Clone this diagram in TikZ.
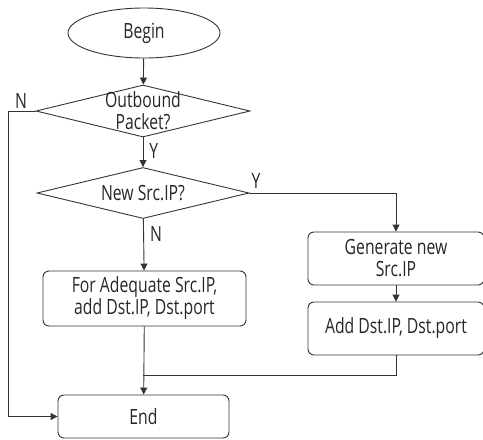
\documentclass[tikz,border=0pt]{standalone}
\usepackage{fontspec}
\setmainfont{Open Sans}[FakeStretch=0.75]
\usetikzlibrary{shapes.geometric,arrows.meta}
\tikzset{
  every node/.style={font=\fontsize{21}{22}\selectfont, text=black!85},
  line/.style={draw=black!80, line width=0.9pt},
  arr/.style={line, -{Triangle[length=7pt,width=7pt]}},
  proc/.style={line, rectangle, rounded corners=6pt, inner sep=0pt, align=center},
  dec/.style={line, diamond, inner sep=0pt},
  lbl/.style={inner sep=0pt}
}
\begin{document}
\begin{tikzpicture}[x=1pt,y=-1pt]
\useasboundingbox (0,0) rectangle (483,440);
\node[line, ellipse, minimum width=152pt, minimum height=50pt, inner sep=0pt] (begin) at (144,33) {Begin};
\node[dec, minimum width=214pt, minimum height=52pt, label={[align=center]center:Outbound\\Packet?}] (out) at (143,111) {};
\node[dec, minimum width=212pt, minimum height=51pt, label={center:New Src.IP?}] (src) at (143,193) {};
\node[proc, minimum width=203pt, minimum height=55pt] (ada) at (144.5,298.5) {For Adequate Src.IP,\\add Dst.IP, Dst.port};
\node[proc, minimum width=176pt, minimum height=53pt] (gen) at (396,258.5) {Generate new\\Src.IP};
\node[proc, minimum width=176pt, minimum height=53pt] (add) at (396,328.5) {Add Dst.IP, Dst.port};
\node[proc, minimum width=171pt, minimum height=43pt] (end) at (143.5,416.5) {End};
\coordinate (j) at (143,375);
\coordinate (lft) at (8,111);

\draw[arr] (begin) -- (out);
\draw[arr] (out) -- node[lbl, right=6pt, pos=0.45] (y1) {Y} (src);
\draw[arr] (src) -- node[lbl, right=6pt, pos=0.3] (n2) {N} (ada);
\draw[arr] (src.east) -| (gen.north);
\draw[arr] (gen) -- (add);
\draw[arr] (ada) -- (end);
\draw[line] (add.south) |- (j);
\draw[arr] (out.west) -- (lft) |- (end.west);
\node[lbl] (n1) at (21,101) {N};
\node[lbl] (y2) at (256,181) {Y};
\end{tikzpicture}
\end{document}
